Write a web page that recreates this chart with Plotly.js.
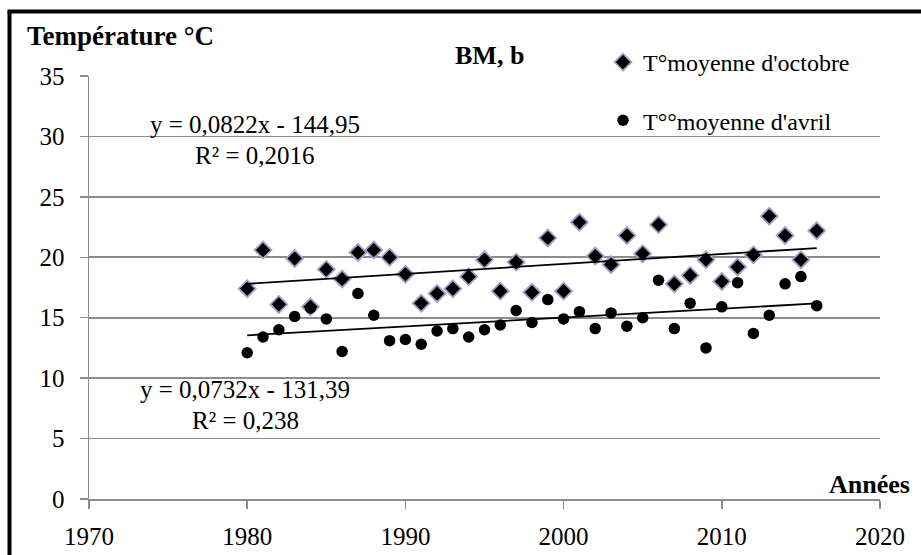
<!DOCTYPE html>
<html>
<head>
<meta charset="utf-8">
<script src="https://cdn.plot.ly/plotly-3.0.1.min.js"></script>
<style>html,body{margin:0;padding:0;background:#fff;}#chart{width:921px;height:555px;}</style>
</head>
<body>
<div id="chart"></div>
<script>
// ---- data ----
const years = [1980,1981,1982,1983,1984,1985,1986,1987,1988,1989,1990,1991,1992,1993,1994,1995,1996,1997,1998,1999,2000,2001,2002,2003,2004,2005,2006,2007,2008,2009,2010,2011,2012,2013,2014,2015,2016];
const tempOctobre = [17.4,20.6,16.1,19.9,15.9,19.0,18.2,20.4,20.6,20.0,18.6,16.2,17.0,17.4,18.4,19.8,17.2,19.6,17.1,21.6,17.2,22.9,20.1,19.4,21.8,20.3,22.7,17.8,18.5,19.8,18.0,19.2,20.2,23.4,21.8,19.8,22.2];
const tempAvril = [12.1,13.4,14.0,15.1,15.8,14.9,12.2,17.0,15.2,13.1,13.2,12.8,13.9,14.1,13.4,14.0,14.4,15.6,14.6,16.5,14.9,15.5,14.1,15.4,14.3,15.0,18.1,14.1,16.2,12.5,15.9,17.9,13.7,15.2,17.8,18.4,16.0];
const trendOctobre = {slope: 0.0822, intercept: -144.95, r2: '0,2016', label: 'y = 0,0822x - 144,95'};
const trendAvril = {slope: 0.0732, intercept: -131.39, r2: '0,238', label: 'y = 0,0732x - 131,39'};
const seriesNames = ["T°moyenne d'octobre", "T°°moyenne d'avril"];
const xTicks = [1970,1980,1990,2000,2010,2020];
const yTicks = [0,5,10,15,20,25,30,35];

// ---- layout geometry (pixels) ----
const W = 921, H = 555;
const L = 89, R = 880, T = 76, B = 499;
const PW = R - L, PH = B - T;
const px = x => (x - L) / PW;
const py = y => (B - y) / PH;

const FONT = 'Liberation Serif, Times New Roman, serif';
const GRID = '#8c8c8c';

const x0 = Math.min(...years), x1 = Math.max(...years);
function trendTrace(t) {
  return {
    x: [x0, x1],
    y: [t.slope * x0 + t.intercept, t.slope * x1 + t.intercept],
    mode: 'lines', line: {color: '#000', width: 1.8},
    showlegend: false, hoverinfo: 'skip'
  };
}

const traces = [
  {x: years, y: tempOctobre, name: seriesNames[0], mode: 'markers', legendgroup: 'a',
   marker: {symbol: 'diamond', size: 13, color: '#000', line: {color: '#a99bc8', width: 1.8}}},
  {x: years, y: tempAvril, name: seriesNames[1], mode: 'markers', legendgroup: 'b',
   marker: {symbol: 'circle', size: 11.5, color: '#000', line: {color: '#000', width: 0}}},
  trendTrace(trendOctobre),
  trendTrace(trendAvril)
];

function ann(text, x, y, opts) {
  return Object.assign({text: text, xref: 'paper', yref: 'paper', x: px(x), y: py(y),
    showarrow: false, xanchor: 'center', yanchor: 'middle',
    font: {family: FONT, size: 25, color: '#000'}}, opts || {});
}

const layout = {
  width: W, height: H,
  margin: {l: L, r: W - R, t: T, b: H - B, pad: 0},
  paper_bgcolor: '#fff', plot_bgcolor: '#fff',
  showlegend: true,
  legend: {x: px(603), y: py(40), xanchor: 'left', yanchor: 'top',
    font: {family: FONT, size: 24, color: '#000'}, tracegroupgap: 24,
    bgcolor: 'rgba(0,0,0,0)', borderwidth: 0},
  xaxis: {range: [1970, 2020], tickvals: xTicks, ticktext: xTicks.map(String),
    showgrid: false, zeroline: false, showline: true, linecolor: GRID, linewidth: 1.5,
    ticks: 'outside', ticklen: 8, tickcolor: GRID, tickwidth: 1.5, ticklabelstandoff: 6,
    tickfont: {family: FONT, size: 25, color: '#000'}, fixedrange: true},
  yaxis: {range: [0, 35], tickvals: yTicks, ticktext: yTicks.map(String),
    showgrid: true, gridcolor: GRID, gridwidth: 1.8, zeroline: false,
    showline: true, linecolor: GRID, linewidth: 1.5,
    ticks: 'outside', ticklen: 8, tickcolor: GRID, tickwidth: 1.5, ticklabelstandoff: 10,
    tickfont: {family: FONT, size: 25, color: '#000'}, fixedrange: true},
  annotations: [
    ann('<b>Température °C</b>', 25, 36, {xanchor: 'left', font: {family: FONT, size: 27, color: '#000'}}),
    ann('<b>BM, b</b>', 453, 56, {xanchor: 'left', font: {family: FONT, size: 26, color: '#000'}}),
    ann('<b>Années</b>', 912, 484, {xanchor: 'right', font: {family: FONT, size: 26, color: '#000'}}),
    ann(trendOctobre.label, 255, 125),
    ann('R² = ' + trendOctobre.r2, 255, 155),
    ann(trendAvril.label, 245, 389),
    ann('R² = ' + trendAvril.r2, 245, 420)
  ],
  shapes: [
    {type: 'line', xref: 'paper', yref: 'paper', x0: px(9.5), x1: px(9.5), y0: py(11.5), y1: py(H + 5), line: {color: '#000', width: 4}, layer: 'above'},
    {type: 'line', xref: 'paper', yref: 'paper', x0: px(7.5), x1: px(W + 5), y0: py(11.5), y1: py(11.5), line: {color: '#000', width: 4}, layer: 'above'}
  ]
};

Plotly.newPlot('chart', traces, layout, {displayModeBar: false, staticPlot: true});
</script>
</body>
</html>
